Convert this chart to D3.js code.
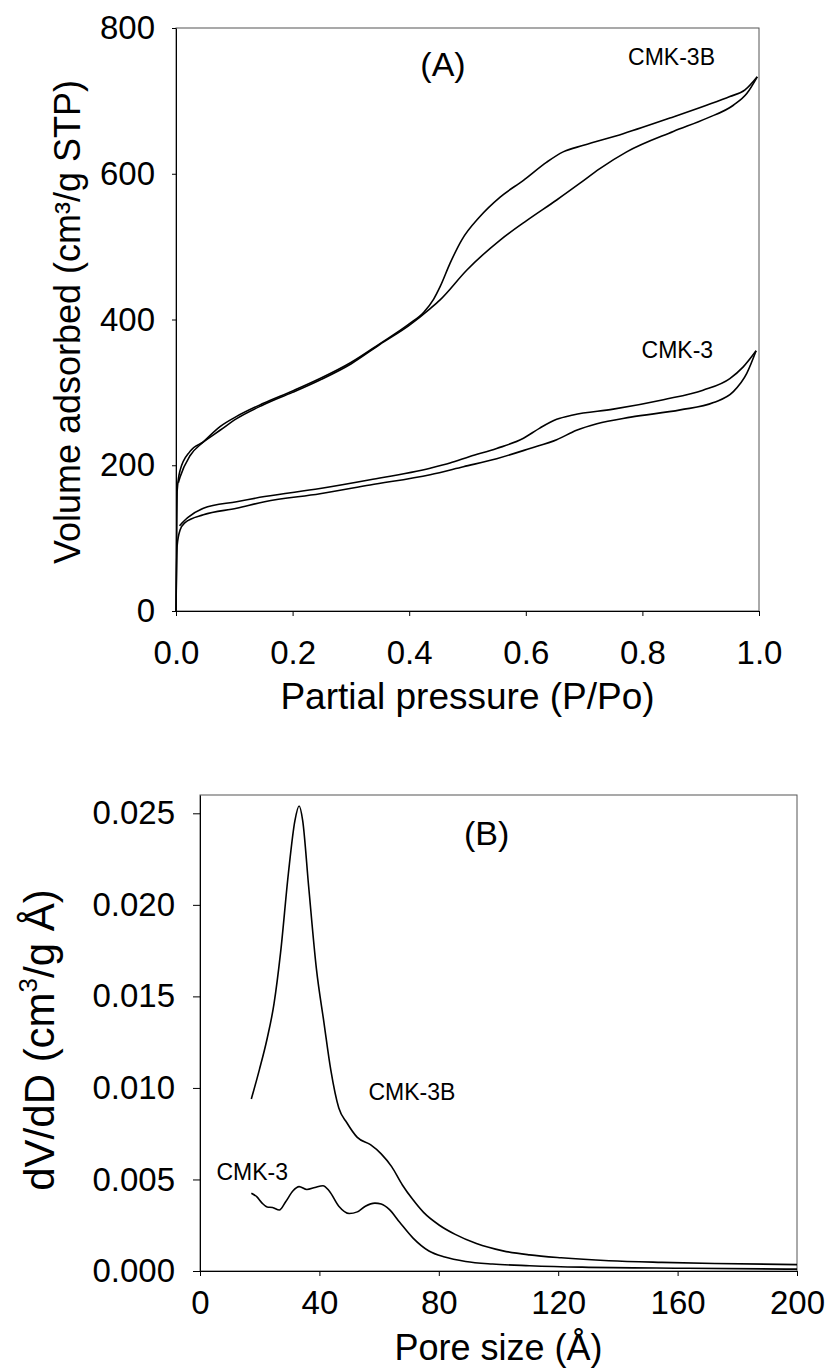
<!DOCTYPE html>
<html>
<head>
<meta charset="utf-8">
<script src="https://cdn.jsdelivr.net/npm/d3@7"></script>
<style>
  body { margin: 0; background: #fff; }
  text { font-family: "Liberation Sans", Arial, sans-serif; fill: #000; }
  .axis path, .axis line { stroke: #000; }
</style>
</head>
<body>
<div id="chart"></div>
<script>
// Panel A: N2 isotherms [P/Po, volume adsorbed]
var cmk3bAds = [[0,0],[0.002,165],[0.007,193],[0.024,219],[0.047,232],[0.0755,248],[0.104,264],[0.15,283],
  [0.2,300],[0.247,317],[0.3,339],[0.35,366],[0.4,392],[0.436,415],[0.453,427],[0.499,468],[0.556,509],
  [0.602,536],[0.653,564],[0.693,587],[0.727,607],[0.773,630],[0.853,658],[0.91,676],[0.956,694],
  [0.979,710],[0.997,733]];
var cmk3bDes = [[0.004,176],[0.007,184],[0.024,213],[0.047,232],[0.0755,253],[0.104,267],[0.15,285],
  [0.2,302],[0.247,319],[0.3,341],[0.35,367],[0.4,394],[0.425,410],[0.442,428],[0.453,445],[0.47,477],
  [0.49,509],[0.521,541],[0.556,568],[0.596,591],[0.636,616],[0.664,630],[0.699,639],[0.767,655],
  [0.853,678],[0.91,694],[0.95,706],[0.976,715],[0.997,733]];
var cmk3Ads = [[0,0],[0.002,90],[0.007,111],[0.015,121],[0.047,132],[0.104,141],[0.152,150],[0.247,161],
  [0.333,173],[0.436,187],[0.493,198],[0.55,209],[0.607,223],[0.653,235],[0.687,248],[0.722,257],
  [0.78,266],[0.865,276],[0.922,286],[0.956,301],[0.979,326],[0.995,357]];
var cmk3Des = [[0.006,117],[0.02,128],[0.047,141],[0.104,150],[0.152,157],[0.247,168],[0.333,180],
  [0.436,196],[0.47,203],[0.504,212],[0.55,223],[0.596,237],[0.624,251],[0.653,263],[0.681,269],
  [0.75,277],[0.836,290],[0.904,303],[0.95,319],[0.973,335],[0.995,357]];

// Panel B: pore size distribution [pore size, dV/dD]
var psdCmk3b = [[17.2,0.0094],[19.9,0.0110],[22.5,0.0127],[24.8,0.0146],[27,0.0174],[29.6,0.0217],
  [31.8,0.0246],[33.2,0.0254],[34.4,0.0246],[36.4,0.0210],[39,0.0165],[41.5,0.0136],[43.8,0.0110],
  [46.5,0.0089],[49.2,0.0081],[52.7,0.0073],[57.1,0.0069],[60.7,0.0064],[64.2,0.0057],[67.8,0.0047],
  [71.3,0.0039],[74.9,0.0032],[80.2,0.0025],[85.5,0.0020],[92.6,0.0015],[101.5,0.0011],[110.4,0.00088],
  [121,0.00072],[137,0.00056],[154.7,0.00047],[172.5,0.00041],[200,0.00035]];
var psdCmk3 = [[17.2,0.00425],[19,0.00406],[20.8,0.00371],[22.5,0.00350],[24.3,0.00347],[26.6,0.00333],
  [28.7,0.00378],[31.1,0.00437],[33.2,0.00461],[35.8,0.00445],[38.5,0.00456],[41.2,0.00466],
  [43.3,0.00437],[46.5,0.00354],[50,0.00314],[52.7,0.00323],[55.4,0.00354],[58.6,0.00371],
  [60.7,0.00366],[63.4,0.00337],[66.9,0.00266],[71.3,0.00181],[76.7,0.00109],[82,0.00076],
  [89,0.00052],[98,0.00038],[110.4,0.00029],[128,0.00021],[163.6,0.00015],[200,0.00010]];

// Tick labels
var aXTicks = [0, 0.2, 0.4, 0.6, 0.8, 1.0];
var aYTicks = [0, 200, 400, 600, 800];
var bXTicks = [0, 40, 80, 120, 160, 200];
var bYTicks = [0, 0.005, 0.010, 0.015, 0.020, 0.025];

var svgWidth = 829;
var svgHeight = 1372;

var svg = d3.select("#chart")
  .append("svg")
  .attr("width", svgWidth)
  .attr("height", svgHeight);

// ---------- Panel A ----------
var a = {left: 176, top: 28, width: 583, height: 583};
var ax = d3.scaleLinear().domain([0, 1]).range([0, a.width]);
var ay = d3.scaleLinear().domain([0, 800]).range([a.height, 0]);
var gA = svg.append("g").attr("transform", `translate(${a.left}, ${a.top})`);

gA.append("rect")
  .attr("width", a.width).attr("height", a.height)
  .attr("fill", "none").attr("stroke", "#555");

var lineA = d3.line()
  .x(d => ax(d[0]))
  .y(d => ay(d[1]))
  .curve(d3.curveMonotoneX);

[cmk3bAds, cmk3bDes, cmk3Ads, cmk3Des].forEach(function(s) {
  gA.append("path")
    .datum(s)
    .attr("d", lineA)
    .attr("fill", "none")
    .attr("stroke", "#000")
    .attr("stroke-width", 1.6);
});

gA.append("g")
  .attr("class", "axis")
  .attr("transform", `translate(0, ${a.height})`)
  .call(d3.axisBottom(ax).tickValues(aXTicks).tickFormat(d3.format(".1f")).tickSize(5).tickPadding(25).tickSizeOuter(0))
  .call(g => g.selectAll("text").attr("font-size", 33).attr("font-family", null));

gA.append("g")
  .attr("class", "axis")
  .call(d3.axisLeft(ay).tickValues(aYTicks).tickSize(4).tickPadding(17).tickSizeOuter(0))
  .call(g => g.selectAll("text").attr("font-size", 33).attr("font-family", null));

gA.append("text")
  .attr("x", ax(0.458)).attr("y", ay(748) + 10)
  .attr("text-anchor", "middle").attr("font-size", 34)
  .text("(A)");
gA.append("text")
  .attr("x", ax(0.85)).attr("y", ay(760) + 8)
  .attr("text-anchor", "middle").attr("font-size", 23)
  .text("CMK-3B");
gA.append("text")
  .attr("x", ax(0.86)).attr("y", ay(358) + 8)
  .attr("text-anchor", "middle").attr("font-size", 23)
  .text("CMK-3");

// axis titles A
svg.append("text")
  .attr("x", a.left + a.width / 2).attr("y", 709)
  .attr("text-anchor", "middle").attr("font-size", 37)
  .text("Partial pressure (P/Po)");
svg.append("text")
  .attr("transform", "translate(80, 322) rotate(-90)")
  .attr("text-anchor", "middle").attr("font-size", 36)
  .text("Volume adsorbed (cm³/g STP)");

// ---------- Panel B ----------
var b = {left: 200, top: 795, width: 597, height: 476};
var bx = d3.scaleLinear().domain([0, 200]).range([0, b.width]);
var by = d3.scaleLinear().domain([0, 0.026]).range([b.height, 0]);
var gB = svg.append("g").attr("transform", `translate(${b.left}, ${b.top})`);

gB.append("rect")
  .attr("width", b.width).attr("height", b.height)
  .attr("fill", "none").attr("stroke", "#555");

var lineB = d3.line()
  .x(d => bx(d[0]))
  .y(d => by(d[1]))
  .curve(d3.curveMonotoneX);

[psdCmk3b, psdCmk3].forEach(function(s) {
  gB.append("path")
    .datum(s)
    .attr("d", lineB)
    .attr("fill", "none")
    .attr("stroke", "#000")
    .attr("stroke-width", 1.6);
});

gB.append("g")
  .attr("class", "axis")
  .attr("transform", `translate(0, ${b.height})`)
  .call(d3.axisBottom(bx).tickValues(bXTicks).tickSize(5).tickPadding(15).tickSizeOuter(0))
  .call(g => g.selectAll("text").attr("font-size", 33).attr("font-family", null));

gB.append("g")
  .attr("class", "axis")
  .call(d3.axisLeft(by).tickValues(bYTicks).tickFormat(d3.format(".3f")).tickSize(7).tickPadding(18).tickSizeOuter(0))
  .call(g => g.selectAll("text").attr("font-size", 33).attr("font-family", null));

gB.append("text")
  .attr("x", bx(96)).attr("y", by(0.0239) + 12)
  .attr("text-anchor", "middle").attr("font-size", 34)
  .text("(B)");
gB.append("text")
  .attr("x", bx(71)).attr("y", by(0.0098) + 8)
  .attr("text-anchor", "middle").attr("font-size", 23)
  .text("CMK-3B");
gB.append("text")
  .attr("x", bx(17.5)).attr("y", by(0.0054) + 8)
  .attr("text-anchor", "middle").attr("font-size", 23)
  .text("CMK-3");

// axis titles B
svg.append("text")
  .attr("x", b.left + b.width / 2).attr("y", 1360)
  .attr("text-anchor", "middle").attr("font-size", 36)
  .text("Pore size (Å)");
var yTitleB = svg.append("text")
  .attr("transform", "translate(54, 1040) rotate(-90)")
  .attr("text-anchor", "middle").attr("font-size", 42);
yTitleB.append("tspan").text("dV/dD (cm");
yTitleB.append("tspan").attr("font-size", 26).attr("dy", -17).text("3");
yTitleB.append("tspan").attr("dy", 17).text("/g Å)");
</script>
</body>
</html>
